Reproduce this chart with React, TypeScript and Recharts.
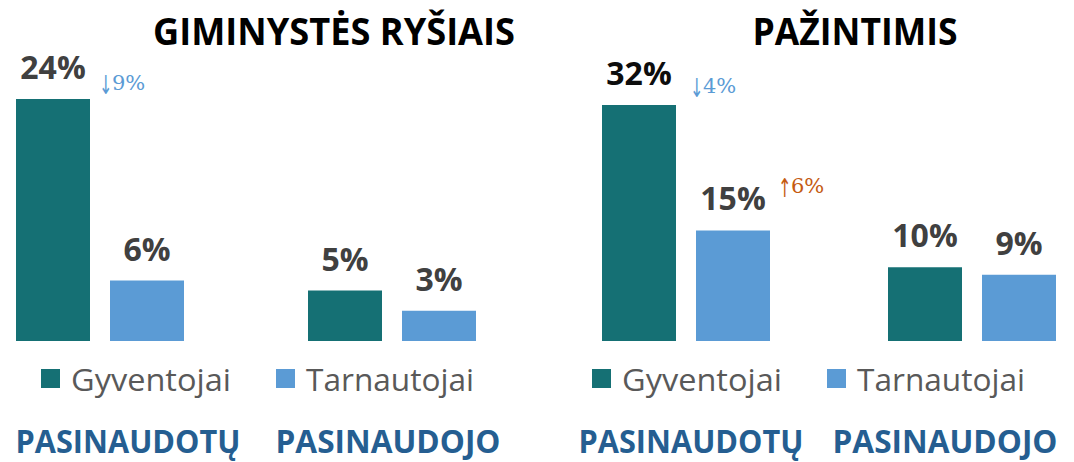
import React from 'react';
import { BarChart, Bar, XAxis, YAxis, Legend, LabelList } from 'recharts';

// categories + values
const categories = ['PASINAUDOTŲ', 'PASINAUDOJO'];
const seriesNames = ['Gyventojai', 'Tarnautojai'];

const kinshipResidents = [24, 5];
const kinshipEmployees = [6, 3];
const kinshipResidentChanges = ['↓9%', ''];
const kinshipEmployeeChanges = ['', ''];

const acquaintResidents = [32, 10];
const acquaintEmployees = [15, 9];
const acquaintResidentChanges = ['↓4%', ''];
const acquaintEmployeeChanges = ['↑6%', ''];

const TEAL = '#157074';
const BLUE = '#5B9BD5';
const DOWN = '#5B9BD5';
const UP = '#C55A11';
const SANS = '"Open Sans", "Noto Sans", sans-serif';

type Layout = {
  marginLeft: number;
  marginRight: number;
  top: number;
  titleX: number;
  titleWidth: number;
  tickDx: number[];
  legendX: number;
  labelColors: string[];
  residentNote: { dx: number; dy: number };
  employeeNote: { dx: number; dy: number };
};

const leftLayout: Layout = {
  marginLeft: -46,
  marginRight: -1,
  top: 99,
  titleX: 334,
  titleWidth: 362,
  tickDx: [28, -4],
  legendX: 41,
  labelColors: ['#404040', '#404040'],
  residentNote: { dx: 9, dy: -9 },
  employeeNote: { dx: 9, dy: -9 },
};

const rightLayout: Layout = {
  marginLeft: 6,
  marginRight: -41,
  top: 105,
  titleX: 318,
  titleWidth: 205,
  tickDx: [5, -27],
  legendX: 55,
  labelColors: ['#0d0d0d', '#404040'],
  residentNote: { dx: 14, dy: -12 },
  employeeNote: { dx: 8, dy: -37 },
};

const W = 537;
const H = 462;

const LegendBox = ({ x }: { x: number }) => (
  <svg width={W} height={52} style={{ display: 'block' }}>
    {seriesNames.map((name, i) => {
      const sx = x + i * 235;
      return (
        <g key={name}>
          <rect x={sx} y={11} width={19} height={19} fill={i === 0 ? TEAL : BLUE} />
          <text
            x={sx + 30}
            y={33}
            fontFamily={SANS}
            fontSize={31}
            fill="#595959"
            textLength={i === 0 ? 160 : 168}
            lengthAdjust="spacingAndGlyphs"
          >
            {name}
          </text>
        </g>
      );
    })}
  </svg>
);

type PanelProps = {
  title: string;
  residents: number[];
  employees: number[];
  residentChanges: string[];
  employeeChanges: string[];
  layout: Layout;
};

const Panel = ({ title, residents, employees, residentChanges, employeeChanges, layout }: PanelProps) => {
  const data = categories.map((c, i) => ({
    cat: c,
    residents: residents[i],
    employees: employees[i],
    residentNote: residentChanges[i],
    employeeNote: employeeChanges[i],
  }));
  const max = Math.max(...residents, ...employees);

  const valueLabel = (colors: string[] | null) => (p: any) => {
    const fill = colors ? colors[p.index] ?? '#404040' : '#404040';
    return (
      <text
        x={p.x + p.width / 2}
        y={p.y - 20}
        textAnchor="middle"
        fontFamily={SANS}
        fontWeight={700}
        fontSize={32}
        fill={fill}
      >
        {p.value}%
      </text>
    );
  };

  // change notes: tall thin arrow + serif percentage
  const noteLabel = (off: { dx: number; dy: number }) => (p: any) => {
    if (!p.value) return null;
    const s = String(p.value);
    const fill = s.startsWith('↑') ? UP : DOWN;
    const x0 = p.x + p.width + off.dx;
    const y0 = p.y + off.dy;
    return (
      <g transform={`translate(${x0},${y0})`} fill={fill}>
        <text x={0} y={4} fontFamily="DejaVu Sans" fontSize={26} transform="scale(0.62,1)">
          {s.slice(0, 1)}
        </text>
        <text x={13} y={0} fontFamily="DejaVu Serif" fontSize={21}>
          {s.slice(1)}
        </text>
      </g>
    );
  };

  const tick = (p: any) => (
    <text
      x={p.x + layout.tickDx[p.index]}
      y={p.y + 112}
      textAnchor="middle"
      fontFamily={SANS}
      fontWeight={700}
      fontSize={33}
      fill="#255E91"
      textLength={225}
      lengthAdjust="spacingAndGlyphs"
    >
      {p.payload.value}
    </text>
  );

  return (
    <BarChart
      width={W}
      height={H}
      data={data}
      margin={{ top: layout.top, left: layout.marginLeft, right: layout.marginRight, bottom: 0 }}
      barSize={74}
      barGap={20}
    >
      <text
        x={layout.titleX}
        y={45}
        textAnchor="middle"
        fontFamily={SANS}
        fontWeight={700}
        fontSize={38}
        fill="#000"
        textLength={layout.titleWidth}
        lengthAdjust="spacingAndGlyphs"
      >
        {title}
      </text>
      <XAxis
        dataKey="cat"
        height={121}
        axisLine={false}
        tickLine={false}
        tickSize={0}
        tickMargin={0}
        tick={tick}
        interval={0}
      />
      <YAxis hide width={0} domain={[0, max]} />
      <Legend
        layout="horizontal"
        verticalAlign="middle"
        align="center"
        wrapperStyle={{ top: 358, left: 0, width: W, height: 52 }}
        content={() => <LegendBox x={layout.legendX} />}
      />
      <Bar dataKey="residents" name={seriesNames[0]} fill={TEAL} isAnimationActive={false}>
        <LabelList dataKey="residents" content={valueLabel(layout.labelColors)} />
        <LabelList dataKey="residentNote" content={noteLabel(layout.residentNote)} />
      </Bar>
      <Bar dataKey="employees" name={seriesNames[1]} fill={BLUE} isAnimationActive={false}>
        <LabelList dataKey="employees" content={valueLabel(null)} />
        <LabelList dataKey="employeeNote" content={noteLabel(layout.employeeNote)} />
      </Bar>
    </BarChart>
  );
};

export default function App() {
  return (
    <div style={{ width: 1074, height: H, display: 'flex', background: '#fff', overflow: 'hidden' }}>
      <style>{'body{margin:0}'}</style>
      <Panel
        title="GIMINYSTĖS RYŠIAIS"
        residents={kinshipResidents}
        employees={kinshipEmployees}
        residentChanges={kinshipResidentChanges}
        employeeChanges={kinshipEmployeeChanges}
        layout={leftLayout}
      />
      <Panel
        title="PAŽINTIMIS"
        residents={acquaintResidents}
        employees={acquaintEmployees}
        residentChanges={acquaintResidentChanges}
        employeeChanges={acquaintEmployeeChanges}
        layout={rightLayout}
      />
    </div>
  );
}
